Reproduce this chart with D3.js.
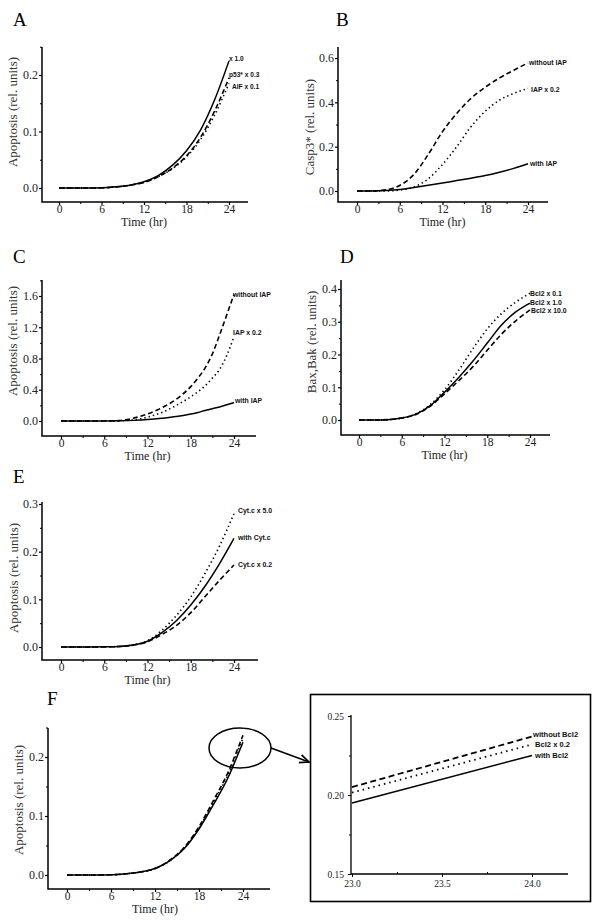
<!DOCTYPE html>
<html><head><meta charset="utf-8">
<script src="https://cdn.jsdelivr.net/npm/d3@7/dist/d3.min.js"></script>
<style>
body{margin:0;background:#fff;}
svg{display:block;}
.tick text{font-family:"Liberation Serif","Times New Roman",serif;fill:#222;}
</style></head>
<body>
<svg id="c" width="600" height="923"></svg>
<script>
// ---------------- DATA ----------------
const hours = [0,2,4,6,8,10,12,14,16,18,20,22,24];
const hoursC = [0,2,4,6,8,10,12,14,16,18,19,20,21,22,23,24];
const hoursF = [0,2,4,6,8,10,12,14,16,18,20,22,23,24];
const xTicks = [0,6,12,18,24];
const xMinor = [3,9,15,21];

// Panel A
const A_x10  = [0,0,0,0.0003,0.002,0.005,0.011,0.022,0.040,0.066,0.103,0.157,0.225];
const A_p53  = [0,0,0,0.0003,0.002,0.005,0.010,0.020,0.035,0.057,0.090,0.137,0.195];
const A_aif  = [0,0,0,0.0003,0.002,0.005,0.010,0.020,0.034,0.055,0.086,0.130,0.185];
const A_labels = ["x 1.0","p53* x 0.3","AIF x 0.1"];
const A_yTicks = [0,0.1,0.2], A_yMinor = [0.05,0.15,0.25];

// Panel B
const B_without = [0,0,0.005,0.025,0.075,0.165,0.268,0.35,0.418,0.468,0.51,0.545,0.578];
const B_iap02   = [0,0,0,0.004,0.018,0.055,0.12,0.2,0.29,0.36,0.41,0.44,0.463];
const B_with    = [0,0,0.002,0.007,0.016,0.026,0.036,0.047,0.058,0.07,0.085,0.102,0.123];
const B_labels = ["without IAP","IAP x 0.2","with IAP"];
const B_yTicks = [0,0.2,0.4,0.6], B_yMinor = [0.1,0.3,0.5];

// Panel C
const C_without = [0,0,0,0,0.005,0.035,0.09,0.17,0.28,0.44,0.55,0.68,0.86,1.10,1.36,1.62];
const C_iap02   = [0,0,0,0,0.002,0.012,0.05,0.11,0.20,0.31,0.375,0.45,0.55,0.66,0.84,1.08];
const C_with    = [0,0,0,0,0.002,0.008,0.018,0.035,0.057,0.09,0.11,0.135,0.157,0.18,0.207,0.235];
const C_labels = ["without IAP","IAP x 0.2","with IAP"];
const C_yTicks = [0,0.4,0.8,1.2,1.6], C_yMinor = [0.2,0.6,1.0,1.4,1.8];

// Panel D
const D_01  = [0,0,0.001,0.006,0.019,0.047,0.092,0.152,0.218,0.278,0.325,0.36,0.387];
const D_10  = [0,0,0.001,0.006,0.018,0.044,0.085,0.13,0.18,0.235,0.29,0.33,0.357];
const D_100 = [0,0,0.001,0.006,0.017,0.042,0.08,0.12,0.163,0.213,0.262,0.303,0.336];
const D_labels = ["Bcl2 x 0.1","Bcl2 x 1.0","Bcl2 x 10.0"];
const D_yTicks = [0,0.1,0.2,0.3,0.4], D_yMinor = [0.05,0.15,0.25,0.35];

// Panel E
const E_50   = [0,0,0,0.0003,0.001,0.004,0.013,0.035,0.066,0.105,0.155,0.212,0.28];
const E_with = [0,0,0,0.0003,0.001,0.004,0.012,0.03,0.055,0.088,0.128,0.175,0.228];
const E_02   = [0,0,0,0.0003,0.001,0.004,0.011,0.026,0.045,0.072,0.106,0.14,0.172];
const E_labels = ["Cyt.c x 5.0","with Cyt.c","Cyt.c x 0.2"];
const E_yTicks = [0,0.1,0.2,0.3], E_yMinor = [0.05,0.15,0.25];

// Panel F
const F_without = [0,0,0,0.0003,0.002,0.005,0.011,0.025,0.047,0.082,0.127,0.175,0.205,0.237];
const F_bcl02   = [0,0,0,0.0003,0.002,0.005,0.011,0.024,0.046,0.080,0.124,0.171,0.2015,0.232];
const F_with    = [0,0,0,0.0003,0.002,0.005,0.011,0.024,0.045,0.078,0.120,0.166,0.195,0.225];
const F_labels = ["without Bcl2","Bcl2 x 0.2","with Bcl2"];
const F_yTicks = [0,0.1,0.2], F_yMinor = [0.05,0.15,0.25];
const inset_xTicks = [23,23.5,24], inset_xMinor = [23.25,23.75];
const inset_yTicks = [0.15,0.20,0.25], inset_yMinor = [0.175,0.225];

// ---------------- STYLES ----------------
const STYLE = {
  solid:  {dash:null, w:1.5},
  dashed: {dash:"5,3", w:1.6},
  dotted: {dash:"1.4,3", w:1.6}
};
const SERIF = '"Liberation Serif","Times New Roman",serif';
const SANS = '"Liberation Sans",Arial,sans-serif';

const svg = d3.select("#c");

function drawPanel(p){
  const g = svg.append("g");
  const x = d3.scaleLinear().domain([0,24]).range([p.x0,p.x24]);
  const y = d3.scaleLinear().domain([0,p.yRef]).range([p.y0,p.yRefPx]);
  // axis L
  g.append("path").attr("d",`M${p.axX},${p.top}V${p.bottom}H${p.right}`)
    .attr("fill","none").attr("stroke","#000").attr("stroke-width",1.5);
  // x axis
  const xa = g.append("g").attr("transform",`translate(0,${p.bottom})`)
    .call(d3.axisBottom(x).tickValues(xTicks).tickSize(3).tickPadding(0).tickFormat(d3.format("d")));
  xa.select(".domain").remove();
  xa.selectAll("text").style("font-size","11.5px");
  xa.selectAll("line").attr("stroke-width",1.2);
  const xm = g.append("g").attr("transform",`translate(0,${p.bottom})`)
    .call(d3.axisBottom(x).tickValues(xMinor).tickSize(2).tickFormat(""));
  xm.select(".domain").remove();
  // y axis
  const ya = g.append("g").attr("transform",`translate(${p.axX},0)`)
    .call(d3.axisLeft(y).tickValues(p.yTicks).tickSize(3).tickPadding(1).tickFormat(d3.format(".1f")));
  ya.select(".domain").remove();
  ya.selectAll("text").style("font-size","12px");
  ya.selectAll("line").attr("stroke-width",1.2);
  const ym = g.append("g").attr("transform",`translate(${p.axX},0)`)
    .call(d3.axisLeft(y).tickValues(p.yMinor.filter(v=>y(v)>=p.top-0.5)).tickSize(2).tickFormat(""));
  ym.select(".domain").remove();
  // titles
  g.append("text").attr("x",(p.x0+p.x24)/2).attr("y",p.bottom+24).attr("text-anchor","middle")
    .style("font-family",SERIF).style("font-size","12px").attr("fill","#222").text("Time (hr)");
  g.append("text").attr("transform",`translate(${p.ytX},${p.ytY}) rotate(-90)`).attr("text-anchor","middle")
    .style("font-family",SERIF).style("font-size","13px").attr("fill","#333").text(p.yTitle);
  g.append("text").attr("x",p.letterX).attr("y",p.letterY)
    .style("font-family",SERIF).style("font-size","19px").attr("fill","#000").text(p.letter);
  // lines
  const line = d3.line().x(d=>x(d[0])).y(d=>y(d[1])).curve(d3.curveMonotoneX);
  p.series.forEach((s,i)=>{
    const st = STYLE[s.style];
    g.append("path").datum(p.t.map((t,j)=>[t,s.values[j]]))
      .attr("d",line).attr("fill","none").attr("stroke","#000")
      .attr("stroke-width",st.w).attr("stroke-dasharray",st.dash);
    if (s.label) {
      g.append("text").attr("x",p.labelPos[i][0]).attr("y",p.labelPos[i][1])
        .style("font-family",SANS).style("font-weight","bold").style("font-size",p.labelSize+"px")
        .attr("fill","#111").text(s.label);
    }
  });
  return {g,x,y};
}

const panels = [
  {letter:"A",letterX:13,letterY:26,axX:42,right:248,top:47,bottom:202,x0:59,x24:229,
   y0:188,yRef:0.2,yRefPx:75,yTicks:A_yTicks,yMinor:A_yMinor,yTitle:"Apoptosis (rel. units)",ytX:17,ytY:112,
   t:hours,labelSize:6.6,labelPos:[[229,61],[229,77],[232,89]],
   series:[{values:A_x10,style:"solid",label:A_labels[0]},{values:A_p53,style:"dashed",label:A_labels[1]},{values:A_aif,style:"dotted",label:A_labels[2]}]},
  {letter:"B",letterX:336,letterY:26,axX:338,right:548,top:47,bottom:202,x0:357,x24:528,
   y0:191,yRef:0.6,yRefPx:58,yTicks:B_yTicks,yMinor:B_yMinor,yTitle:"Casp3* (rel. units)",ytX:314,ytY:127,
   t:hours,labelSize:6.9,labelPos:[[529,65],[531,92],[530,166]],
   series:[{values:B_without,style:"dashed",label:B_labels[0]},{values:B_iap02,style:"dotted",label:B_labels[1]},{values:B_with,style:"solid",label:B_labels[2]}]},
  {letter:"C",letterX:13,letterY:263,axX:42,right:256,top:280,bottom:436,x0:61,x24:234,
   y0:421,yRef:1.6,yRefPx:296,yTicks:C_yTicks,yMinor:C_yMinor,yTitle:"Apoptosis (rel. units)",ytX:17,ytY:341,
   t:hoursC,labelSize:6.9,labelPos:[[233,297],[233,335],[235,403]],
   series:[{values:C_without,style:"dashed",label:C_labels[0]},{values:C_iap02,style:"dotted",label:C_labels[1]},{values:C_with,style:"solid",label:C_labels[2]}]},
  {letter:"D",letterX:340,letterY:263,axX:341,right:550,top:280,bottom:435,x0:359,x24:530,
   y0:420,yRef:0.4,yRefPx:289,yTicks:D_yTicks,yMinor:D_yMinor,yTitle:"Bax,Bak (rel. units)",ytX:316,ytY:342,
   t:hours,labelSize:6.9,labelPos:[[530,296],[530,305],[531,313]],
   series:[{values:D_01,style:"dotted",label:D_labels[0]},{values:D_10,style:"solid",label:D_labels[1]},{values:D_100,style:"dashed",label:D_labels[2]}]},
  {letter:"E",letterX:13,letterY:483,axX:42,right:258,top:502,bottom:660,x0:61,x24:234,
   y0:647,yRef:0.3,yRefPx:504,yTicks:E_yTicks,yMinor:E_yMinor,yTitle:"Apoptosis (rel. units)",ytX:18,ytY:578,
   t:hours,labelSize:6.9,labelPos:[[238,513],[238,540],[238,567]],
   series:[{values:E_50,style:"dotted",label:E_labels[0]},{values:E_with,style:"solid",label:E_labels[1]},{values:E_02,style:"dashed",label:E_labels[2]}]},
  {letter:"F",letterX:47,letterY:705,axX:48,right:270,top:728,bottom:889,x0:67,x24:243,
   y0:875,yRef:0.2,yRefPx:757,yTicks:F_yTicks,yMinor:F_yMinor,yTitle:"Apoptosis (rel. units)",ytX:23,ytY:800,
   t:hoursF,labelSize:0,labelPos:[[0,0],[0,0],[0,0]],
   series:[{values:F_without,style:"dashed",label:""},{values:F_bcl02,style:"dotted",label:""},{values:F_with,style:"solid",label:""}]}
];
panels.forEach(drawPanel);

// ---------------- F zoom ellipse + arrow ----------------
svg.append("defs").append("marker").attr("id","arr").attr("viewBox","0 0 10 10")
  .attr("refX",9).attr("refY",5).attr("markerWidth",7).attr("markerHeight",7).attr("orient","auto")
  .append("path").attr("d","M0,1L9,5L0,9").attr("fill","none").attr("stroke","#000").attr("stroke-width",1.6);
svg.append("ellipse").attr("cx",240).attr("cy",748).attr("rx",31).attr("ry",20)
  .attr("fill","none").attr("stroke","#000").attr("stroke-width",1.5);
svg.append("line").attr("x1",271).attr("y1",748).attr("x2",309).attr("y2",762)
  .attr("stroke","#000").attr("stroke-width",1.5).attr("marker-end","url(#arr)");

// ---------------- Inset ----------------
const ins = svg.append("g");
ins.append("rect").attr("x",310.5).attr("y",694.5).attr("width",280).attr("height",207)
  .attr("fill","#fff").attr("stroke","#000").attr("stroke-width",1.6);
const ix = d3.scaleLinear().domain([23,24]).range([352,532]);
const iy = d3.scaleLinear().domain([0.15,0.25]).range([874,716]);
ins.append("path").attr("d","M351,715V874H568").attr("fill","none").attr("stroke","#000").attr("stroke-width",1.3);
const ixa = ins.append("g").attr("transform","translate(0,874)")
  .call(d3.axisBottom(ix).tickValues(inset_xTicks).tickSize(3).tickPadding(3).tickFormat(d3.format(".1f")));
ixa.select(".domain").remove(); ixa.selectAll("text").style("font-size","9.5px");
const ixm = ins.append("g").attr("transform","translate(0,874)")
  .call(d3.axisTop(ix).tickValues(inset_xMinor).tickSize(2).tickFormat(""));
ixm.select(".domain").remove();
const iya = ins.append("g").attr("transform","translate(351,0)")
  .call(d3.axisLeft(iy).tickValues(inset_yTicks).tickSize(3).tickPadding(4).tickFormat(d3.format(".2f")));
iya.select(".domain").remove(); iya.selectAll("text").style("font-size","9.5px");
const iym = ins.append("g").attr("transform","translate(351,0)")
  .call(d3.axisLeft(iy).tickValues(inset_yMinor).tickSize(2).tickFormat(""));
iym.select(".domain").remove();
const iline = d3.line().x(d=>ix(d[0])).y(d=>iy(d[1]));
const insetSeries = [
  {values:F_without,dash:"6,3.5",w:1.8,label:F_labels[0],pos:[533,737]},
  {values:F_bcl02,dash:"1.5,4",w:1.8,label:F_labels[1],pos:[535,747]},
  {values:F_with,dash:null,w:1.5,label:F_labels[2],pos:[535,758]}
];
insetSeries.forEach(s=>{
  const pts = hoursF.map((t,j)=>[t,s.values[j]]).filter(d=>d[0]>=23);
  ins.append("path").datum(pts).attr("d",iline).attr("fill","none").attr("stroke","#000")
    .attr("stroke-width",s.w).attr("stroke-dasharray",s.dash);
  ins.append("text").attr("x",s.pos[0]).attr("y",s.pos[1])
    .style("font-family",SANS).style("font-weight","bold").style("font-size","7.6px")
    .attr("fill","#111").text(s.label);
});
</script>
</body></html>
